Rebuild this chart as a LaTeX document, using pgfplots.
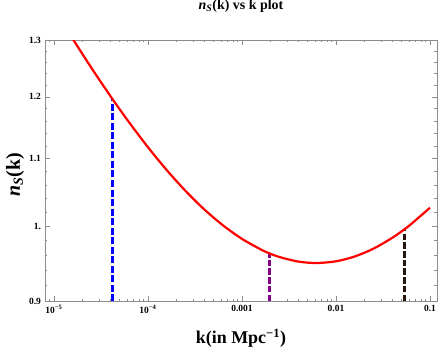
\documentclass[border=0pt]{standalone}
\usepackage{fontspec}
\setmainfont{Liberation Serif}
\usepackage{pgfplots}
\pgfplotsset{compat=1.18}
\definecolor{darkbrown}{rgb}{0.15,0.08,0.06}
\definecolor{framegray}{gray}{0.55}
\definecolor{mypurple}{rgb}{0.52,0,0.52}
\begin{document}
\begin{tikzpicture}
\begin{axis}[
  scale only axis,
  width=392bp, height=261bp,
  xmode=log, ymode=log,
  xmin=8.02e-6, xmax=0.1187,
  ymin=0.9, ymax=1.3,
  xtick={1e-5,1e-4,1e-3,1e-2,1e-1},
  xticklabels={10\textsuperscript{−5},10\textsuperscript{−4},0.001,0.01,0.1},
  minor xtick={9e-6,2e-5,3e-5,4e-5,5e-5,6e-5,7e-5,8e-5,9e-5,2e-4,3e-4,4e-4,5e-4,6e-4,7e-4,8e-4,9e-4,2e-3,3e-3,4e-3,5e-3,6e-3,7e-3,8e-3,9e-3,0.02,0.03,0.04,0.05,0.06,0.07,0.08,0.09},
  ytick={0.9,1,1.1,1.2,1.3},
  yticklabels={0.9,1.,1.1,1.2,1.3},
  minor ytick={0.92,0.94,0.96,0.98,1.02,1.04,1.06,1.08,1.12,1.14,1.16,1.18,1.22,1.24,1.26,1.28},
  tick align=inside,
  major tick length=5bp, minor tick length=2.5bp,
  axis line style={framegray, line width=0.6bp},
  every tick/.style={framegray, line width=0.5bp},
  tick label style={font=\bfseries\fontsize{9.5}{11}\selectfont, black},
  xticklabel style={yshift=-1bp},
  yticklabel style={xshift=-0.5bp},
  title={\textbf{\textit{n}\textsubscript{\textit{S}}(k) vs k plot}},
  title style={at={(axis description cs:0.5,1.107)}, anchor=center, font=\fontsize{14}{16}\selectfont},
  xlabel={\textbf{k(in Mpc\textsuperscript{−1})}},
  xlabel style={at={(axis description cs:0.5,-0.142)}, anchor=center, font=\fontsize{18}{20}\selectfont},
  ylabel={\textbf{\textit{n}\textsubscript{\textit{S}}(k)}},
  ylabel style={at={(axis description cs:-0.0765,0.483)}, anchor=center, font=\fontsize{20}{22}\selectfont},
  clip=true,
]
\addplot[blue, line width=2.5bp, dash pattern=on 7bp off 2.5bp] coordinates {(4.207e-5,0.9) (4.207e-5,1.1958)};
\addplot[mypurple, line width=2.5bp, dash pattern=on 6.5bp off 2.2bp] coordinates {(1.95e-3,0.9) (1.95e-3,0.9626)};
\addplot[darkbrown, line width=2.5bp, dash pattern=on 6.5bp off 2.2bp] coordinates {(0.0533,0.9) (0.0533,0.9956)};
\addplot[red, line width=2.2bp, smooth] coordinates {
(1.413e-5,1.3154)
(2.512e-5,1.2494)
(4.207e-5,1.1958)
(6.310e-5,1.1574)
(1.0e-4,1.1177)
(1.585e-4,1.0822)
(2.512e-4,1.0509)
(3.981e-4,1.0238)
(6.310e-4,1.0010)
(1.0e-3,0.9823)
(1.585e-3,0.9678)
(1.95e-3,0.9626)
(2.512e-3,0.9575)
(3.981e-3,0.9514)
(6.166e-3,0.9495)
(0.01,0.9518)
(0.01585,0.9583)
(0.02512,0.9690)
(0.03981,0.9839)
(0.0533,0.9956)
(0.0631,1.0031)
(0.1,1.0264)
};
\end{axis}
\pgfresetboundingbox
\path (-45bp,-53bp) rectangle (396bp,301bp);
\end{tikzpicture}
\end{document}
